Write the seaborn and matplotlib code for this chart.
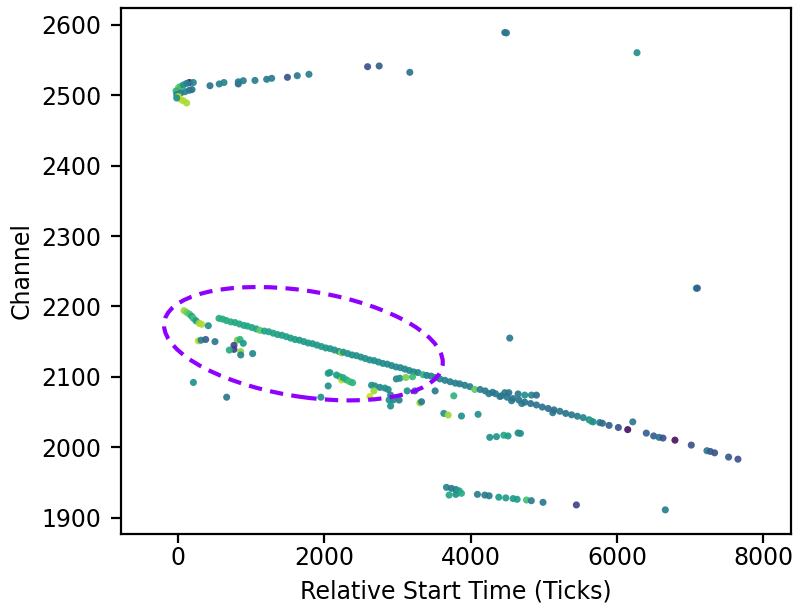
import matplotlib
matplotlib.use("Agg")
import matplotlib.pyplot as plt
from matplotlib.patches import Ellipse
import seaborn as sns
import numpy as np
import pandas as pd

# main diagonal track (start time in ticks, channel, colour value)
track_x = [560, 610, 660, 720, 780, 840, 900, 950, 1010, 1070, 1120, 1180, 1240, 1300,
           1360, 1420, 1480, 1540, 1600, 1660, 1720, 1780, 1840, 1900, 1960, 2020, 2080,
           2140, 2200, 2236, 2260, 2320, 2380, 2440, 2500, 2560, 2620, 2680, 2740, 2800,
           2860, 2920, 2980, 3040, 3100, 3160, 3220, 3280, 3351, 3400, 3460, 3520, 3580,
           3650, 3720, 3790, 3850, 3920, 3990, 4057, 4130, 4200, 4250, 4300, 4340, 4400,
           4420, 4500, 4560, 4580, 4660, 4700, 4740, 4820, 4900, 4980, 5060, 5123, 5140,
           5220, 5300, 5380, 5460, 5540, 5620, 5650, 5674, 5765, 5802, 5893, 6020, 6148,
           6402, 6503, 6576, 6630, 6794, 7017, 7231, 7277, 7336, 7527, 7655]
track_y = [2183, 2182, 2180, 2178, 2177, 2175, 2173, 2172, 2170, 2168, 2166, 2165, 2164, 2162,
           2160, 2159, 2157, 2155, 2153, 2152, 2150, 2148, 2147, 2145, 2143, 2141, 2140,
           2138, 2136, 2134, 2135, 2133, 2131, 2130, 2128, 2126, 2124, 2123, 2121, 2119,
           2118, 2116, 2114, 2113, 2111, 2109, 2107, 2106, 2103, 2102, 2101, 2099, 2097,
           2095, 2093, 2091, 2090, 2088, 2086, 2082, 2082, 2080, 2076, 2078, 2076, 2072,
           2073, 2071, 2066, 2069, 2067, 2062, 2064, 2062, 2060, 2057, 2055, 2049, 2053,
           2051, 2048, 2046, 2044, 2042, 2039, 2037, 2036, 2035, 2034, 2031, 2028, 2025,
           2020, 2016, 2014, 2013, 2010, 2003, 1995, 1994, 1992, 1986, 1983]
track_c = [0.62, 0.62, 0.62, 0.62, 0.6, 0.6, 0.6, 0.6, 0.6, 0.58, 0.75, 0.58, 0.58, 0.58,
           0.58, 0.56, 0.56, 0.56, 0.56, 0.55, 0.55, 0.55, 0.54, 0.54, 0.54, 0.53, 0.53,
           0.52, 0.52, 0.85, 0.52, 0.52, 0.5, 0.5, 0.5, 0.5, 0.5, 0.49, 0.49, 0.49,
           0.48, 0.48, 0.48, 0.48, 0.47, 0.47, 0.47, 0.46, 0.65, 0.46, 0.45, 0.45, 0.44,
           0.44, 0.43, 0.43, 0.42, 0.42, 0.42, 0.75, 0.42, 0.4, 0.42, 0.4, 0.4, 0.42,
           0.4, 0.4, 0.42, 0.38, 0.38, 0.42, 0.38, 0.38, 0.38, 0.38, 0.36, 0.4, 0.36,
           0.4, 0.38, 0.4, 0.42, 0.45, 0.48, 0.62, 0.5, 0.4, 0.35, 0.3, 0.25, 0.05,
           0.3, 0.3, 0.38, 0.25, 0.05, 0.25, 0.4, 0.3, 0.25, 0.28, 0.25]

# upper band around channel 2500-2590
upper_x = [155, 209, 437, 564, 628, 824, 824, 892, 1052, 1212, 1280, 1496, 1630, 1790,
           2592, 2750, 3169, 4467, 4490, 6275,
           4, 27, 73, 118, -27, -18, 37, 96, 155, 191, 4, 37, 73, 118, -18]
upper_y = [2518, 2518, 2513.5, 2516, 2518, 2516, 2519, 2520.6, 2521, 2522.6, 2524, 2525.4,
           2527.7, 2529.7, 2540.5, 2541.5, 2532.5, 2589, 2588.5, 2560.4,
           2510.6, 2512, 2514.5, 2516.8, 2506, 2501, 2503, 2505, 2507, 2508, 2498, 2494,
           2492, 2489, 2496]
upper_c = [0.05, 0.45, 0.38, 0.42, 0.45, 0.3, 0.42, 0.42, 0.42, 0.4, 0.42, 0.25, 0.4, 0.42,
           0.25, 0.3, 0.38, 0.38, 0.4, 0.5,
           0.85, 0.7, 0.5, 0.45, 0.65, 0.45, 0.4, 0.45, 0.4, 0.38, 0.9, 0.92, 0.88, 0.87, 0.5]

# scattered hits around the track
side_x = [82, 118, 155, 187, 210, 246, 291, 324, 414, 277, 314, 378, 505, 810, 847, 892,
          765, 765, 701, 857, 857, 1020, 210, 665, 1953, 2053, 2077, 2168, 2213, 2236,
          2258, 2305, 2350, 2387, 2053, 2646, 2691, 2760, 2828, 2873, 2678, 2623, 2906,
          2941, 2886, 3023, 2906, 2985, 3033, 3115, 3206, 3133, 3238, 3306, 3329, 3515,
          3634, 3693, 3875, 4102, 3770, 4262, 4354, 4454, 4512, 4649, 4681, 4467, 4522,
          4649, 4740, 4832, 4900, 4535, 6217, 7086, 7100]
side_y = [2194, 2191.5, 2189, 2186, 2183, 2179.5, 2176, 2174.5, 2172.6, 2151, 2152, 2153,
          2150, 2152, 2153, 2147.6, 2144.7, 2139, 2138, 2135.7, 2131, 2133, 2092, 2071,
          2071, 2105, 2106, 2102.5, 2100, 2095.5, 2098.7, 2095.5, 2093, 2091.6, 2087, 2088,
          2087, 2085, 2084, 2082, 2080, 2072, 2074, 2067, 2067, 2067, 2058.5, 2097, 2098,
          2099, 2100, 2080, 2080, 2063, 2064.6, 2080, 2048, 2045.7, 2044.3, 2046.7, 2073,
          2014, 2015, 2017, 2016, 2020.2, 2019.6, 2077.4, 2077.4, 2075.6, 2074, 2074, 2074,
          2155, 2036, 2225.7, 2226]
side_c = [0.85, 0.78, 0.72, 0.6, 0.7, 0.55, 0.85, 0.88, 0.5, 0.9, 0.45, 0.3, 0.4, 0.8, 0.65,
          0.55, 0.22, 0.18, 0.62, 0.82, 0.45, 0.45, 0.5, 0.4, 0.5, 0.55, 0.55, 0.55, 0.58,
          0.9, 0.6, 0.62, 0.7, 0.65, 0.5, 0.5, 0.5, 0.48, 0.5, 0.48, 0.85, 0.92, 0.45, 0.48,
          0.5, 0.42, 0.5, 0.45, 0.5, 0.8, 0.68, 0.5, 0.4, 0.85, 0.4, 0.4, 0.5, 0.85, 0.5,
          0.5, 0.65, 0.5, 0.52, 0.6, 0.55, 0.48, 0.5, 0.4, 0.38, 0.4, 0.5, 0.45, 0.35, 0.4,
          0.4, 0.5, 0.3]

# lower band around channel 1910-1945
lower_x = [3670, 3738, 3798, 3843, 3706, 3798, 3875, 4093, 4194, 4253, 4385, 4481, 4581,
           4636, 4764, 4830, 4990, 5446, 6662]
lower_y = [1943, 1941.5, 1940, 1938, 1932, 1933, 1934.5, 1933, 1932, 1931, 1929, 1928, 1927,
           1926, 1925, 1924, 1921.7, 1918, 1911]
lower_c = [0.45, 0.4, 0.45, 0.55, 0.6, 0.5, 0.62, 0.42, 0.42, 0.4, 0.55, 0.55, 0.55, 0.55,
           0.7, 0.42, 0.4, 0.2, 0.42]

df = pd.DataFrame({
    'start': track_x + upper_x + side_x + lower_x,
    'channel': track_y + upper_y + side_y + lower_y,
    'val': track_c + upper_c + side_c + lower_c,
})

fig = plt.figure(figsize=(3.99, 3.03), dpi=200)
ax = fig.add_axes([0.1516, 0.1188, 0.8396, 0.8685])

sns.scatterplot(data=df, x='start', y='channel', hue='val', palette='viridis',
                hue_norm=(0, 1), s=6.5, linewidth=0, alpha=0.92, legend=False, ax=ax)

ell = Ellipse((1714, 2147), width=3811, height=152, angle=-0.8, fill=False,
              edgecolor='#8f00ff', linewidth=1.5, linestyle=(0, (3.2, 2.0)))
ax.add_patch(ell)

ax.set_xlim(-780, 8380)
ax.set_ylim(1876.7, 2624.3)
ax.set_xticks([0, 2000, 4000, 6000, 8000])
ax.set_yticks([1900, 2000, 2100, 2200, 2300, 2400, 2500, 2600])
ax.tick_params(labelsize=8.5)
ax.tick_params(axis='x', pad=1.2, length=3.2)
ax.set_xlabel('Relative Start Time (Ticks)', fontsize=8.5, labelpad=3.5)
ax.set_ylabel('Channel', fontsize=8.5, labelpad=2.6)

plt.savefig('out.png', dpi=200)
plt.close()
